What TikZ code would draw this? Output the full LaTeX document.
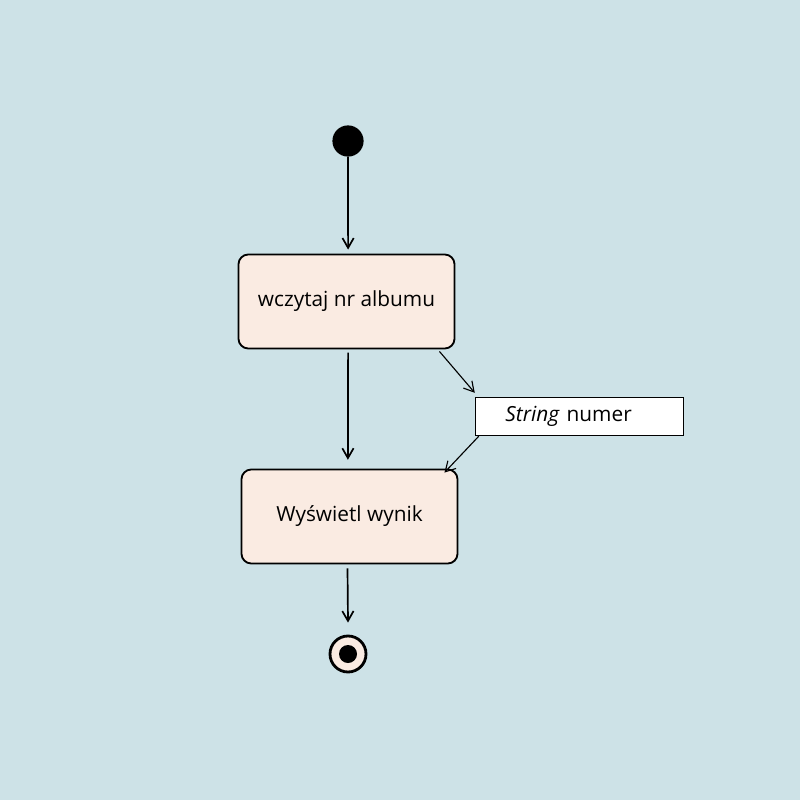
\documentclass[tikz,border=0pt]{standalone}
\usepackage{fontspec}
\setmainfont{Open Sans}
\definecolor{bgBlue}{HTML}{CDE2E7}
\definecolor{actPeach}{HTML}{FAEBE2}
\usetikzlibrary{positioning,arrows.meta}
\tikzset{
  activity/.style={draw, line width=1.3pt, fill=actPeach, rounded corners=7pt, minimum width=5.4cm, minimum height=2.35cm, font=\fontsize{14.8}{17}\selectfont},
  objbox/.style={draw, line width=1pt, fill=white, minimum width=5.2cm, minimum height=0.95cm, font=\fontsize{14.8}{17}\selectfont},
  flow/.style={-{Straight Barb[length=7pt,width=8pt]}, line width=1.2pt},
  objflow/.style={-{Straight Barb[length=7pt,width=8pt]}, line width=0.8pt}
}
\begin{document}
\begin{tikzpicture}[x=0.025cm, y=-0.025cm]
  % background
  \fill[bgBlue] (0,0) rectangle (800,800);
  \useasboundingbox (0,0) rectangle (800,800);
  % start and end
  \node[circle, fill=black, minimum size=0.78cm, inner sep=0pt] (start) at (348,141) {};
  \node[activity] (read) at (346.5,301.5) {wczytaj nr albumu};
  \node[objbox, text width=4.9cm] (num) at (579.5,416.5) {\hspace*{0.6cm}\textit{String} numer};
  \node[activity] (show) at (349.5,516.5) {Wyświetl wynik};
  \node[circle, draw, line width=2pt, fill=actPeach, minimum size=0.9cm, inner sep=0pt] (end) at (348,654) {};
  \node[circle, fill=black, minimum size=0.45cm, inner sep=0pt] at (end) {};
  % flows
  \draw[flow] (start) -- ([xshift=0.04cm,yshift=0.1cm]read.north);
  \draw[flow] ([xshift=0.04cm,yshift=-0.08cm]read.south) -- ([xshift=-0.04cm,yshift=0.22cm]show.north);
  \draw[objflow] ([xshift=-0.4cm,yshift=-0.05cm]read.south east) -- ([xshift=0cm,yshift=0.1cm]num.north west);
  \draw[objflow] ([xshift=0.1cm]num.south west) -- ([xshift=-0.35cm,yshift=-0.1cm]show.north east);
  \draw[flow] ([xshift=-0.05cm,yshift=-0.1cm]show.south) -- ([yshift=0.3cm]end.north);
\end{tikzpicture}
\end{document}
